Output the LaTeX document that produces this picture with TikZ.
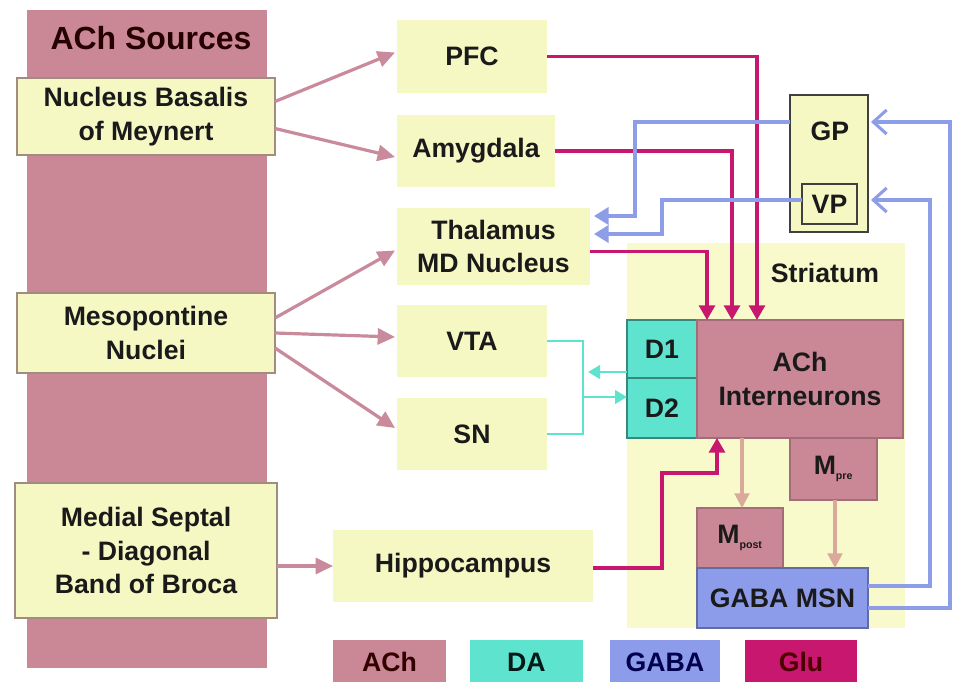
\documentclass[tikz,border=0pt]{standalone}
\usepackage{fontspec}
\setmainfont{Liberation Sans}
\usetikzlibrary{arrows.meta,calc}
\definecolor{achpink}{HTML}{CA8796}
\definecolor{acharr}{HTML}{C98A9B}
\definecolor{yel}{HTML}{F6F8C4}
\definecolor{strbg}{HTML}{F8FACC}
\definecolor{bord}{HTML}{A08C80}
\definecolor{dacol}{HTML}{5EE3CF}
\definecolor{gabaf}{HTML}{8C9BEA}
\definecolor{gabal}{HTML}{8E9DE8}
\definecolor{glucol}{HTML}{C8176E}
\definecolor{tanarr}{HTML}{D9AA9C}
\definecolor{txt}{HTML}{1A1A1A}
% box from pixel corners: \bx[style]{name}{x1}{y1}{x2}{y2}{text}
\newcommand\bx[7][]{%
  \node[#1, minimum width={(#5-#3)*0.75pt}, minimum height={(#6-#4)*0.75pt}]
    (#2) at ({(#3+#5)/2},{(#4+#6)/2}) {#7};}
\begin{document}
\begin{tikzpicture}[x=0.75pt,y=-0.75pt,
  lbl/.style={font=\bfseries\fontsize{20}{25}\selectfont, text=txt, align=center, inner sep=0pt, outer sep=0pt},
  ybox/.style={lbl, fill=yel, draw=none},
  sbox/.style={lbl, fill=yel, draw=bord, line width=1.2pt},
  pbox/.style={lbl, fill=achpink, draw=achpink!80!black, line width=0.8pt},
  achline/.style={draw=acharr, line width=2.4pt, -{Triangle[length=13pt,width=12pt]}},
  glu/.style={draw=glucol, line width=2.3pt},
  gluarr/.style={glu, -{Triangle[length=11pt,width=12pt]}},
  gabal/.style={draw=gabal, line width=2.3pt},
  gabathal/.style={gabal, -{Triangle[length=11pt,width=13pt]}},
  gabagp/.style={gabal, -{Straight Barb[length=10pt,width=18pt]}},
  da/.style={draw=dacol, line width=2.2pt},
  daarr/.style={da, -{Triangle[length=9pt,width=10pt]}},
  tan/.style={draw=tanarr, line width=2.3pt, -{Triangle[length=11pt,width=11pt]}},
  leg/.style={lbl}
]
\path[fill=white] (0,0) rectangle (961,682);
\useasboundingbox (0,0) rectangle (961,682);

% ACh sources strip
\bx[fill=achpink, inner sep=0pt, outer sep=0pt]{src}{27}{10}{267}{668}{}
\node[lbl, font=\bfseries\fontsize{24}{28}\selectfont, text=black!85!red] (srct) at (151,38) {ACh Sources};
\bx[sbox]{nbm}{17}{78}{275}{155}{Nucleus Basalis\\of Meynert}
\bx[sbox]{meso}{17}{293}{275}{373}{Mesopontine\\Nuclei}
\bx[sbox]{msdb}{15}{483}{277}{618}{Medial Septal\\- Diagonal\\Band of Broca}

% targets
\bx[ybox]{pfc}{397}{20}{547}{93}{PFC}
\bx[ybox]{amy}{397}{115}{555}{187}{Amygdala}
\bx[ybox]{thal}{397}{208}{590}{285}{Thalamus\\MD Nucleus}
\bx[ybox]{vta}{397}{305}{547}{377}{VTA}
\bx[ybox]{sn}{397}{398}{547}{470}{SN}
\bx[ybox]{hip}{333}{530}{593}{602}{Hippocampus}

% striatum
\bx[fill=strbg, inner sep=0pt, outer sep=0pt]{str}{627}{243}{905}{628}{}
\node[lbl] (strt) at (825,273) {Striatum};

% GP / VP
\bx[fill=yel, draw=black!75, line width=1.5pt, inner sep=0pt, outer sep=0pt]{gp}{790}{95}{868}{232}{}
\node[lbl] (gpt) at (830,131) {GP};
\bx[lbl, fill=yel, draw=black!75, line width=1.5pt]{vp}{802}{184}{857}{224}{VP}

% striatal cells
\bx[lbl, fill=dacol, draw=dacol!60!black, line width=0.8pt]{d1}{627}{320}{697}{378}{D1}
\bx[lbl, fill=dacol, draw=dacol!60!black, line width=0.8pt]{d2}{627}{378}{697}{438}{D2}
\bx[pbox]{achi}{697}{320}{903}{438}{ACh\\Interneurons}
\bx[pbox]{mpre}{790}{438}{877}{500}{M\textsubscript{\fontsize{8}{8}\selectfont pre}}
\bx[pbox]{mpost}{697}{508}{783}{568}{M\textsubscript{\fontsize{8}{8}\selectfont post}}
\bx[lbl, fill=gabaf, draw=gabaf!70!black, line width=0.8pt]{msn}{697}{568}{868}{628}{GABA MSN}

% ACh source projections
\draw[achline] ($(nbm.east)+(0,-15)$) -- ($(pfc.west)+(-2,-4)$);
\draw[achline] ($(nbm.east)+(0,12)$) -- ($(amy.west)+(-2,6)$);
\draw[achline] ($(meso.east)+(0,-15)$) -- ($(thal.west)+(-2,4)$);
\draw[achline] (meso.east) -- ($(vta.west)+(-2,-4)$);
\draw[achline] ($(meso.east)+(0,15)$) -- ($(sn.west)+(-2,-6)$);
\draw[achline] (msdb.east |- hip.west) -- (hip.west);

% Glu projections
\draw[gluarr] (pfc.east) -| (757,0 |- achi.north);
\draw[gluarr] (amy.east) -| (732,0 |- achi.north);
\draw[gluarr] ($(thal.east)+(0,5)$) -| (707,0 |- achi.north);
\draw[gluarr] ($(hip.east)+(0,2)$) -- (662,568) -- (662,473) -- (717,473) -- (717,0 |- achi.south);

% DA
\draw[da] (vta.east) -| (583,0 |- sn.east) -- (sn.east);
\coordinate (dajoin) at (583,397);
\draw[daarr] (d1.west |- 0,372) -- (588,372);
\draw[daarr] (dajoin) -- (d2.west |- dajoin);

% ACh within striatum
\draw[tan] (742,0 |- achi.south) -- (742,0 |- mpost.north);
\draw[tan] (835,0 |- mpre.south) -- (835,0 |- msn.north);

% GABA
\draw[gabagp] ($(msn.east)+(0,10)$) -| (950,122) -- ($(gp.east |- 0,122)+(3,0)$);
\draw[gabagp] ($(msn.east)+(0,-12)$) -| (930,200) -- ($(gp.east |- 0,200)+(3,0)$);
\draw[gabathal] (gp.west |- 0,122) -- (635,122) -- (635,216) -- ($(thal.north east)+(4,8)$);
\draw[gabathal] (vp.west |- 0,200) -- (662,200) -- (662,234) -- ($(thal.north east)+(4,26)$);

% legend
\bx[leg, fill=achpink, text=black!80!red]{lach}{333}{640}{446}{684}{ACh}
\bx[leg, fill=dacol, text=black!80!teal]{lda}{470}{640}{583}{684}{DA}
\bx[leg, fill=gabaf, text=black!70!blue]{lgaba}{610}{640}{720}{684}{GABA}
\bx[leg, fill=glucol, text=black!70!red]{lglu}{745}{640}{857}{684}{Glu}
\end{tikzpicture}
\end{document}
